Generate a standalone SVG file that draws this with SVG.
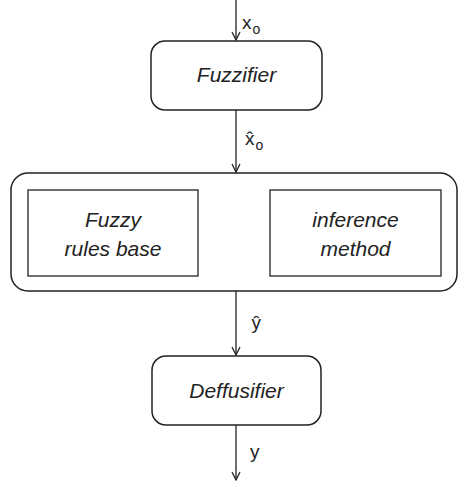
<svg xmlns="http://www.w3.org/2000/svg" width="459" height="482" viewBox="0 0 459 482">
  <style>
    .box { fill: #fff; stroke: #222; stroke-width: 1.5; }
    .inner { fill: #fff; stroke: #222; stroke-width: 1.3; }
    .lbl { font-family: "Liberation Sans", Arial, sans-serif; font-size: 21px; font-style: italic; fill: #222; text-anchor: middle; }
    .sym { font-family: "Liberation Sans", Arial, sans-serif; font-size: 19px; fill: #222; }
    .sub { font-family: "Liberation Sans", Arial, sans-serif; font-size: 14px; fill: #222; }
    .wire { stroke: #222; stroke-width: 1.3; fill: none; }
  </style>
  <defs>
    <marker id="head" viewBox="0 0 10 10" refX="9" refY="5" markerWidth="10" markerHeight="10" markerUnits="userSpaceOnUse" orient="auto-start-reverse">
      <path d="M1,1 L9,5 L1,9" fill="none" stroke="#222" stroke-width="1.3"/>
    </marker>
  </defs>

  <g id="connectors">
    <line class="wire" x1="236" y1="0" x2="236" y2="40" marker-end="url(#head)"/>
    <line class="wire" x1="236" y1="110" x2="236" y2="172" marker-end="url(#head)"/>
    <line class="wire" x1="236" y1="291" x2="236" y2="355" marker-end="url(#head)"/>
    <line class="wire" x1="236" y1="425" x2="236" y2="480" marker-end="url(#head)"/>
    <line class="wire" x1="215" y1="240.5" x2="255" y2="240.5" marker-start="url(#head)" marker-end="url(#head)"/>
  </g>

  <g id="labels">
    <text class="sym" x="242" y="29">x</text>
    <text class="sub" x="252.5" y="34">o</text>
    <text class="sym" x="245" y="145">x&#x302;</text>
    <text class="sub" x="255.5" y="150">o</text>
    <text class="sym" x="251.5" y="329">&#x177;</text>
    <text class="sym" x="250" y="458">y</text>
  </g>

  <g id="fuzzifier">
    <rect class="box" x="151" y="41" width="171" height="69" rx="14"/>
    <text class="lbl" x="236.5" y="82">Fuzzifier</text>
  </g>

  <g id="inference-engine">
    <rect class="box" x="11" y="173" width="446" height="118" rx="17"/>
  </g>

  <g id="rules-base">
    <rect class="inner" x="28" y="190" width="170" height="86"/>
    <text class="lbl" x="113" y="227">Fuzzy</text>
    <text class="lbl" x="113" y="256">rules base</text>
  </g>

  <g id="inference-method">
    <rect class="inner" x="270" y="190" width="171" height="86"/>
    <text class="lbl" x="355.5" y="227">inference</text>
    <text class="lbl" x="355.5" y="256">method</text>
  </g>

  <g id="deffusifier">
    <rect class="box" x="152" y="356" width="169" height="69" rx="14"/>
    <text class="lbl" x="236.5" y="398">Deffusifier</text>
  </g>
</svg>
